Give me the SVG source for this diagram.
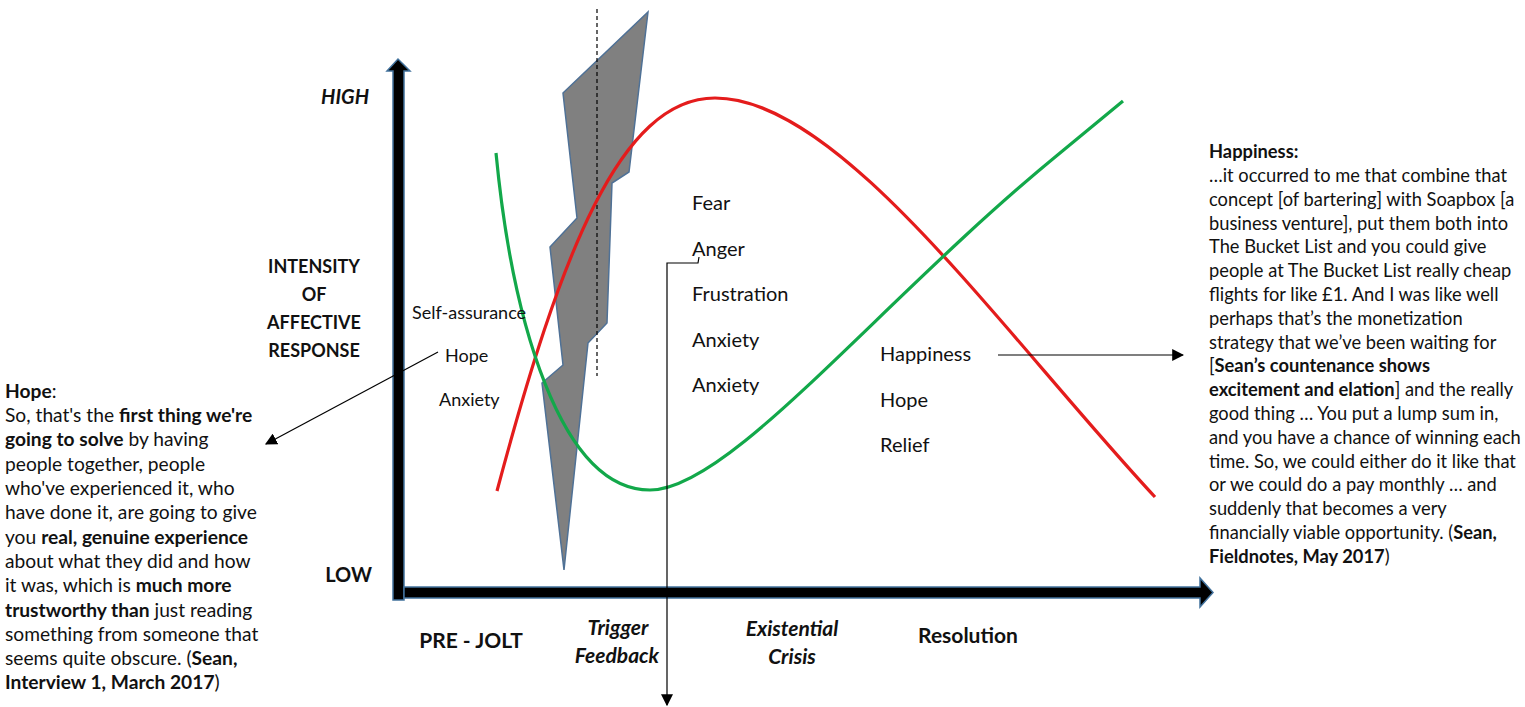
<svg xmlns="http://www.w3.org/2000/svg" width="1525" height="707" viewBox="0 0 1525 707">
  <style>
    text { font-family: Lato, "Liberation Sans", sans-serif; fill: #111; }
    .lbl { font-size: 18px; }
    .emo { font-size: 20px; }
    .ql { font-size: 19.2px; }
    .qr { font-size: 18.3px; }
    .b { font-weight: bold; }
    .axis-t { font-weight: bold; font-size: 18px; text-anchor: middle; }
    .big { font-weight: bold; font-size: 20px; }
    .phase { font-weight: bold; font-size: 21px; text-anchor: middle; }
    .it { font-style: italic; }
    .axis { fill: #000; stroke: #41719c; stroke-width: 1.5; stroke-linejoin: miter; }
    .conn { fill: none; stroke: #000; stroke-width: 1.2; }
  </style>
  <defs>
    <marker id="tri" viewBox="0 0 10 10" refX="9" refY="5" markerWidth="12" markerHeight="12" markerUnits="userSpaceOnUse" orient="auto">
      <path d="M0,0 L10,5 L0,10 Z" fill="#000"/>
    </marker>
  </defs>
  <rect width="1525" height="707" fill="#fff"/>

  <!-- axes -->
  <g id="axes">
    <path class="axis" d="M393,600 L393,71 L387,71 L398,59 L410,71 L404,71 L404,600 Z"/>
    <path class="axis" d="M404,587 L1200,587 L1200,578 L1213,592.5 L1200,607 L1200,598 L404,598 Z"/>
  </g>

  <!-- jolt shape and trigger marker line -->
  <g id="jolt">
    <polygon points="648,12 629,172 612,183 607,323 588,343 564,570 542,383 563,365 550,247 577,218 563,93" fill="#808080" stroke="#4f7196" stroke-width="1.5" stroke-linejoin="miter"/>
    <line x1="597" y1="9" x2="597" y2="376" stroke="#000" stroke-width="1.2" stroke-dasharray="4,3"/>
  </g>

  <!-- emotion curves -->
  <g id="curves" fill="none" stroke-width="3.2" stroke-linecap="butt">
    <path id="red-curve" d="M497,491 C560,255 620,98 715,98 C840,98 1000,330 1155,497" stroke="#e41c1c"/>
    <path id="green-curve" d="M496,153 C512,320 560,490 650,490 C730,490 880,300 1060,153 L1123,101" stroke="#12a84a"/>
  </g>

  <!-- connectors -->
  <g id="connectors">
    <line class="conn" x1="438" y1="352" x2="266" y2="444" marker-end="url(#tri)"/>
    <polyline class="conn" points="699,257 698,263 667,263 667,705" marker-end="url(#tri)"/>
    <line class="conn" x1="998" y1="355" x2="1183" y2="355" marker-end="url(#tri)"/>
  </g>

  <!-- axis labels -->
  <g id="y-labels">
    <text class="big it" x="369" y="104" text-anchor="end">HIGH</text>
    <text class="axis-t" x="314" y="273">INTENSITY</text>
    <text class="axis-t" x="314" y="301">OF</text>
    <text class="axis-t" x="314" y="329">AFFECTIVE</text>
    <text class="axis-t" x="314" y="357">RESPONSE</text>
    <text class="big" x="372" y="582" text-anchor="end">LOW</text>
  </g>

  <g id="phases">
    <text class="phase" x="471" y="648">PRE - JOLT</text>
    <text class="phase it" x="618" y="635">Trigger</text>
    <text class="phase it" x="617" y="663">Feedback</text>
    <text class="phase it" x="792" y="636">Existential</text>
    <text class="phase it" x="792" y="664">Crisis</text>
    <text class="phase" x="968" y="643">Resolution</text>
  </g>

  <!-- emotion lists -->
  <g id="pre-jolt-emotions">
    <text class="lbl" x="412" y="319">Self-assurance</text>
    <text class="lbl" x="445" y="362">Hope</text>
    <text class="lbl" x="439" y="406">Anxiety</text>
  </g>
  <g id="crisis-emotions">
    <text class="emo" x="692" y="210">Fear</text>
    <text class="emo" x="692" y="256">Anger</text>
    <text class="emo" x="692" y="301">Frustration</text>
    <text class="emo" x="692" y="347">Anxiety</text>
    <text class="emo" x="692" y="392">Anxiety</text>
  </g>
  <g id="resolution-emotions">
    <text class="emo" x="880" y="361">Happiness</text>
    <text class="emo" x="880" y="407">Hope</text>
    <text class="emo" x="880" y="452">Relief</text>
  </g>

  <!-- quotes -->
  <g id="hope-quote">
    <text class="ql" x="5" y="398"><tspan class="b">Hope</tspan>:</text>
    <text class="ql" x="5" y="422">So, that's the <tspan class="b">first thing we're</tspan></text>
    <text class="ql" x="5" y="446"><tspan class="b">going to solve</tspan> by having</text>
    <text class="ql" x="5" y="471">people together, people</text>
    <text class="ql" x="5" y="495">who've experienced it, who</text>
    <text class="ql" x="5" y="519">have done it, are going to give</text>
    <text class="ql" x="5" y="544">you <tspan class="b">real, genuine experience</tspan></text>
    <text class="ql" x="5" y="568">about what they did and how</text>
    <text class="ql" x="5" y="592">it was, which is <tspan class="b">much more</tspan></text>
    <text class="ql" x="5" y="617"><tspan class="b">trustworthy than</tspan> just reading</text>
    <text class="ql" x="5" y="641">something from someone that</text>
    <text class="ql" x="5" y="665">seems quite obscure. (<tspan class="b">Sean,</tspan></text>
    <text class="ql" x="5" y="689"><tspan class="b">Interview 1, March 2017</tspan>)</text>
  </g>

  <g id="happiness-quote">
    <text class="qr" x="1209" y="158"><tspan class="b">Happiness:</tspan></text>
    <text class="qr" x="1209" y="182">…it occurred to me that combine that</text>
    <text class="qr" x="1209" y="206">concept [of bartering] with Soapbox [a</text>
    <text class="qr" x="1209" y="230">business venture], put them both into</text>
    <text class="qr" x="1209" y="253">The Bucket List and you could give</text>
    <text class="qr" x="1209" y="277">people at The Bucket List really cheap</text>
    <text class="qr" x="1209" y="301">flights for like £1. And I was like well</text>
    <text class="qr" x="1209" y="325">perhaps that’s the monetization</text>
    <text class="qr" x="1209" y="349">strategy that we’ve been waiting for</text>
    <text class="qr" x="1209" y="372">[<tspan class="b">Sean’s countenance shows</tspan></text>
    <text class="qr" x="1209" y="396"><tspan class="b">excitement and elation</tspan>] and the really</text>
    <text class="qr" x="1209" y="420">good thing … You put a lump sum in,</text>
    <text class="qr" x="1209" y="444">and you have a chance of winning each</text>
    <text class="qr" x="1209" y="468">time. So, we could either do it like that</text>
    <text class="qr" x="1209" y="491">or we could do a pay monthly … and</text>
    <text class="qr" x="1209" y="515">suddenly that becomes a very</text>
    <text class="qr" x="1209" y="539">financially viable opportunity. (<tspan class="b">Sean,</tspan></text>
    <text class="qr" x="1209" y="563"><tspan class="b">Fieldnotes, May 2017</tspan>)</text>
  </g>
</svg>
